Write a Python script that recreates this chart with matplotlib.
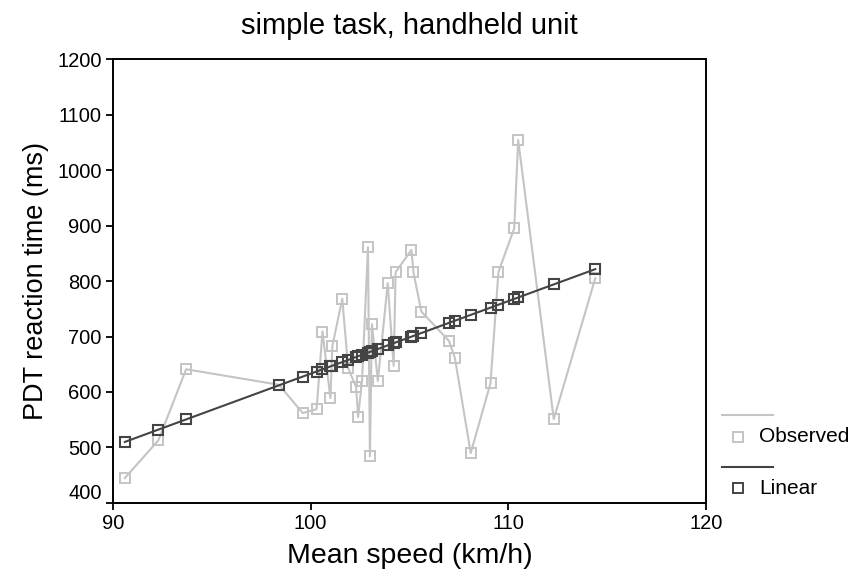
import numpy as np
import matplotlib
matplotlib.use('Agg')
import matplotlib.pyplot as plt
from matplotlib.lines import Line2D

plt.rcParams['font.family'] = ['Liberation Sans', 'DejaVu Sans']

# Datos (velocidad media vs tiempo de reacción PDT)
speed = [90.6, 92.3, 93.7, 98.4, 99.6, 100.3, 100.6, 101.0, 101.1, 101.6,
         101.9, 102.3, 102.4, 102.6, 102.9, 103.0, 103.1, 103.4, 103.9, 104.2,
         104.3, 105.1, 105.2, 105.6, 107.0, 107.3, 108.1, 109.1, 109.5, 110.3,
         110.5, 112.3, 114.4]
reaction = [445, 513, 641, 613, 562, 569, 709, 589, 683, 768,
            643, 609, 555, 620, 861, 484, 722, 620, 796, 647,
            816, 856, 816, 745, 692, 661, 490, 616, 816, 895,
            1054, 551, 805]

# Ajuste lineal
fit_intercept = -675.0
fit_slope = 13.08

xticks = [90, 100, 110, 120]
yticks = [400, 500, 600, 700, 800, 900, 1000, 1100, 1200]

col_obs = '#c4c4c4'
col_lin = '#444444'

speed = np.array(speed)
reaction = np.array(reaction)
fitted = fit_intercept + fit_slope * speed

fig = plt.figure(figsize=(8.52, 5.74), dpi=100)
ax = fig.add_axes([0.1326, 0.1237, 0.696, 0.7735])

ax.plot(speed, reaction, color=col_obs, lw=1.5, marker='s', ms=6.5,
        mfc='none', mec=col_obs, mew=1.4)
ax.plot(speed, fitted, color=col_lin, lw=1.5, marker='s', ms=7,
        mfc='none', mec=col_lin, mew=1.5)

ax.set_xlim(90, 120)
ax.set_ylim(400, 1200)
ax.set_xticks(xticks)
ax.set_yticks(yticks)
ax.tick_params(labelsize=14.5, length=5, width=1.3, direction='out', pad=3)
ax.get_yticklabels()[0].set_va('bottom')
for s in ax.spines.values():
    s.set_linewidth(1.4)

ax.set_xlabel('Mean speed (km/h)', fontsize=20.5, labelpad=7)
ax.set_ylabel('PDT reaction time (ms)', fontsize=19.5, labelpad=6)
fig.text(0.481, 0.955, 'simple task, handheld unit', fontsize=21,
         ha='center', va='center')

# Leyenda a la derecha (línea encima del marcador, estilo SPSS)
def px(x, y):
    return x / 852, 1 - y / 574

for lab, col, yl, ym in [('Observed', col_obs, 415, 437), ('Linear', col_lin, 467, 488)]:
    x0, y0 = px(722, yl)
    x1, _ = px(773, yl)
    fig.add_artist(Line2D([x0, x1], [y0, y0], color=col, lw=1.5))
    mx, my = px(738, ym)
    fig.add_artist(Line2D([mx], [my], marker='s', ms=6.5, mfc='none', mec=col, mew=1.4))
    tx, ty = px(759, ym)
    fig.text(tx, ty, lab, fontsize=15, ha='left', va='center')

fig.savefig('out.png', dpi=100)
